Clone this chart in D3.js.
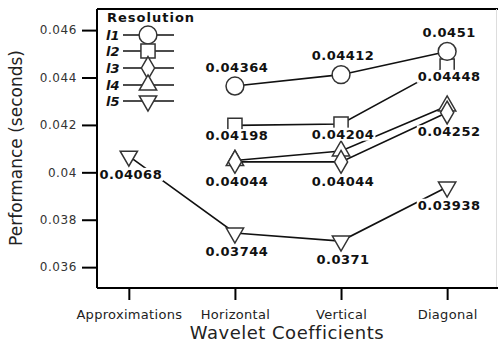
<!DOCTYPE html>
<html>
<head>
<meta charset="utf-8">
<script src="https://d3js.org/d3.v7.min.js"></script>
<style>
  body { margin: 0; background: #fff; }
  text { font-family: "DejaVu Sans", sans-serif; }
</style>
</head>
<body>
<div id="chart"></div>
<script>
// data
var categories = ["Approximations", "Horizontal", "Vertical", "Diagonal"];
var seriesNames = ["l1", "l2", "l3", "l4", "l5"];
var l1 = [null, 0.04364, 0.04412, 0.0451];
var l2 = [null, 0.04198, 0.04204, 0.04448];
var l3 = [null, 0.04044, 0.04044, 0.04252];
var l4 = [null, 0.04050, 0.0409, 0.0428];
var l5 = [0.04068, 0.03744, 0.0371, 0.03938];
var yTicks = [0.036, 0.038, 0.04, 0.042, 0.044, 0.046];

var values = {l1: l1, l2: l2, l3: l3, l4: l4, l5: l5};
// which series carry value labels, and how far from the marker
var labelDy = {l1: -19, l2: 10, l3: 19, l4: null, l5: 18};
var shapes = {l1: d3.symbolCircle, l2: d3.symbolSquare, l3: d3.symbolDiamond,
              l4: d3.symbolTriangle, l5: "down"};
var sizes = {l1: 250, l2: 200, l3: 150, l4: 130, l5: 130};

var W = 498, H = 345;
var margin = {left: 97, top: 9, right: 1, bottom: 57};

var svg = d3.select("#chart").append("svg")
    .attr("width", W).attr("height", H);

var x = d3.scaleLinear().domain([-0.3, 3.47]).range([margin.left, W - margin.right]);
var y = d3.scaleLinear().domain([0.03512, 0.04689]).range([H - margin.bottom, margin.top]);

function markerPath(name) {
    if (shapes[name] === "down") {
        return d3.symbol().type(d3.symbolTriangle).size(sizes[name])();
    }
    return d3.symbol().type(shapes[name]).size(sizes[name])();
}
function markerTransform(name, px, py) {
    if (shapes[name] === "down") return "translate(" + px + "," + py + ") rotate(180)";
    return "translate(" + px + "," + py + ")";
}

// frame
svg.append("line").attr("x1", margin.left).attr("x2", W).attr("y1", margin.top).attr("y2", margin.top)
    .attr("stroke", "#000").attr("stroke-width", 2);
svg.append("line").attr("x1", W - 1.5).attr("x2", W - 1.5).attr("y1", margin.top).attr("y2", H - margin.bottom)
    .attr("stroke", "#ddd").attr("stroke-width", 1);

// y axis
var yAxis = svg.append("g")
    .attr("transform", "translate(" + margin.left + ",0)")
    .call(d3.axisLeft(y).tickValues(yTicks).tickSize(15).tickPadding(5)
        .tickFormat(function(d) { return String(+d.toFixed(3)); }));
yAxis.select(".domain").attr("stroke-width", 2).attr("d",
    "M0," + margin.top + "V" + (H - margin.bottom));
yAxis.selectAll(".tick line").attr("stroke-width", 2);
yAxis.selectAll(".tick text").attr("font-size", 12).attr("fill", "#333")
    .attr("font-family", "DejaVu Sans").attr("letter-spacing", 0.6);

// x axis
var xAxis = svg.append("g")
    .attr("transform", "translate(0," + (H - margin.bottom) + ")")
    .call(d3.axisBottom(x).tickValues([0, 1, 2, 3]).tickSize(12).tickPadding(10)
        .tickFormat(function(d) { return categories[d]; }));
xAxis.select(".domain").attr("stroke-width", 2).attr("d",
    "M" + margin.left + ",0H" + W);
xAxis.selectAll(".tick line").attr("stroke-width", 2);
xAxis.selectAll(".tick text").attr("font-size", 13).attr("fill", "#222")
    .attr("font-family", "DejaVu Sans").attr("letter-spacing", 0.3);

// axis titles
svg.append("text")
    .attr("transform", "translate(22,148) rotate(-90)")
    .attr("text-anchor", "middle")
    .attr("font-size", 17).attr("fill", "#222")
    .text("Performance (seconds)");
svg.append("text")
    .attr("x", 287).attr("y", 339)
    .attr("text-anchor", "middle")
    .attr("font-size", 18).attr("letter-spacing", 0.5).attr("fill", "#222")
    .text("Wavelet Coefficients");

// series, drawn last-to-first so l1 ends up on top
var line = d3.line()
    .defined(function(d) { return d != null; })
    .x(function(d, i) { return x(i); })
    .y(function(d) { return y(d); });

seriesNames.slice().reverse().forEach(function(name) {
    var vals = values[name];
    var g = svg.append("g");
    g.append("path")
        .datum(vals)
        .attr("d", line)
        .attr("fill", "none")
        .attr("stroke", "#111")
        .attr("stroke-width", 1.6);
    g.selectAll("path.m")
        .data(vals.map(function(v, i) { return {v: v, i: i}; }).filter(function(d) { return d.v != null; }))
        .enter().append("path")
        .attr("class", "m")
        .attr("d", markerPath(name))
        .attr("transform", function(d) { return markerTransform(name, x(d.i), y(d.v)); })
        .attr("fill", "#fff")
        .attr("stroke", "#333")
        .attr("stroke-width", 1.5);
});

// value labels with white boxes
var labels = svg.append("g");
seriesNames.forEach(function(name) {
    if (labelDy[name] == null) return;
    values[name].forEach(function(v, i) {
        if (v == null) return;
        var lg = labels.append("g")
            .attr("transform", "translate(" + (x(i) + 2) + "," + (y(v) + labelDy[name]) + ")");
        var t = lg.append("text")
            .attr("text-anchor", "middle")
            .attr("dy", "0.36em")
            .attr("font-size", 13)
            .attr("font-weight", "bold")
            .attr("letter-spacing", 0.5)
            .attr("fill", "#111")
            .text(String(v));
        var bb = t.node().getBBox();
        lg.insert("rect", "text")
            .attr("x", bb.x - 1).attr("y", bb.y + 1)
            .attr("width", bb.width + 2).attr("height", bb.height - 2)
            .attr("fill", "#fff");
    });
});

// legend
var legend = svg.append("g");
legend.append("text")
    .attr("x", 107).attr("y", 22)
    .attr("font-size", 13).attr("font-weight", "bold").attr("letter-spacing", 1)
    .attr("fill", "#111")
    .text("Resolution");
var legendY = [35, 51, 68, 85, 101];
seriesNames.forEach(function(name, k) {
    var ly = legendY[k];
    legend.append("text")
        .attr("x", 106).attr("y", ly).attr("dy", "0.36em")
        .attr("font-size", 13).attr("font-weight", "bold").attr("font-style", "italic")
        .attr("fill", "#111")
        .text(name);
    legend.append("line")
        .attr("x1", 123).attr("x2", 174).attr("y1", ly).attr("y2", ly)
        .attr("stroke", "#111").attr("stroke-width", 1.6);
    legend.append("path")
        .attr("d", markerPath(name))
        .attr("transform", markerTransform(name, 148, ly))
        .attr("fill", "#fff")
        .attr("stroke", "#333")
        .attr("stroke-width", 1.5);
});
</script>
</body>
</html>
